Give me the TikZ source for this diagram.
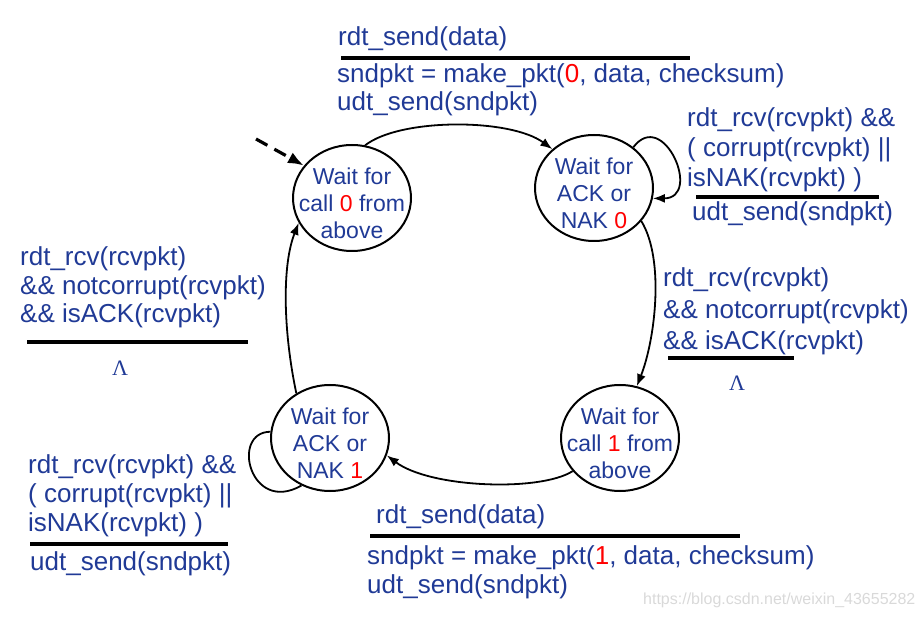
\documentclass[tikz,border=0pt]{standalone}
\usepackage{fontspec}
\setmainfont{Liberation Sans}
\newfontfamily\lambdafont{Liberation Serif}
\usetikzlibrary{shapes.geometric,arrows.meta}
\definecolor{rdtblue}{RGB}{32,58,150}
\definecolor{rdtred}{RGB}{255,0,0}
\newcommand{\toppad}{\rule{0pt}{27pt}}
\begin{document}
\begin{tikzpicture}[x=1pt, y=-1pt,
    state/.style={ellipse, draw, line width=2pt, minimum width=118pt, minimum height=106pt, inner xsep=-14pt, inner ysep=-8pt, align=center, text=rdtblue, font=\fontsize{23}{27}\selectfont},
    lbl/.style={anchor=base west, inner sep=0pt, align=left, text=rdtblue, font=\fontsize{26}{28.5}\selectfont},
    rule/.style={line width=3.5pt},
    trans/.style={line width=1.8pt, -{Latex[length=12pt,width=9pt]}},
    lam/.style={inner sep=0pt, text=rdtblue, font=\lambdafont\fontsize{22}{22}\selectfont}]
    \useasboundingbox (0,0) rectangle (924,617);

    \node[state] (call0) at (352,198) {\toppad Wait for\\call \textcolor{rdtred}{0} from\\above};
    \node[state] (ack0) at (594,188) {\toppad Wait for\\ACK or\\NAK \textcolor{rdtred}{0}};
    \node[state] (call1) at (620,438) {\toppad Wait for\\call \textcolor{rdtred}{1} from\\above};
    \node[state] (ack1) at (330,438) {\toppad Wait for\\ACK or\\NAK \textcolor{rdtred}{1}};

    \coordinate (init) at (256,139);
    \draw[line width=3.2pt, dash pattern=on 13pt off 8pt, -{Latex[length=16pt,width=12pt]}] (init) -- (call0.146);

    \draw[trans] (call0.76) .. controls (400,118) and (510,118) .. (ack0.137);
    \draw[trans] (ack0.46) .. controls +(30,-40) and +(50,0) .. (ack0.-10);
    \draw[trans] (ack0.-35) .. controls (665,260) and (655,340) .. (call1.72);
    \draw[trans] (call1.215) .. controls (540,492) and (430,488) .. (ack1.-17);
    \draw[line width=1.8pt] (ack1.174) .. controls (230,432) and (250,515) .. (ack1.239);
    \draw[trans] (ack1.127) .. controls (283,330) and (282,265) .. (call0.205);

    \node[lbl] (send0) at (338,46) {rdt\_send(data)};
    \draw[rule] (341,58) -- (690,58);
    \node[lbl] (pkt0) at (337,111) {sndpkt = make\_pkt(\textcolor{rdtred}{0}, data, checksum)\\udt\_send(sndpkt)};

    \node[lbl, font=\fontsize{26}{30}\selectfont] (nak0) at (687,187) {rdt\_rcv(rcvpkt) \&\&\\( corrupt(rcvpkt) ||\\isNAK(rcvpkt) )};
    \draw[rule] (696,197) -- (879,197);
    \node[lbl] (resend0) at (692,221) {udt\_send(sndpkt)};

    \node[lbl, font=\fontsize{26}{31.5}\selectfont] (okack0) at (663,350) {rdt\_rcv(rcvpkt)\\\&\& notcorrupt(rcvpkt)\\\&\& isACK(rcvpkt)};
    \draw[rule] (668,358) -- (794,358);
    \node[lam] (nop0) at (737,383) {Λ};

    \node[lbl] (send1) at (376,523) {rdt\_send(data)};
    \draw[rule] (370,536) -- (740,536);
    \node[lbl] (pkt1) at (367,593) {sndpkt = make\_pkt(\textcolor{rdtred}{1}, data, checksum)\\udt\_send(sndpkt)};

    \node[lbl, font=\fontsize{26}{29}\selectfont] (nak1) at (28,531) {rdt\_rcv(rcvpkt) \&\&\\( corrupt(rcvpkt) ||\\isNAK(rcvpkt) )};
    \draw[rule] (30,544) -- (228,544);
    \node[lbl] (resend1) at (30,570) {udt\_send(sndpkt)};

    \node[lbl] (okack1) at (20,323) {rdt\_rcv(rcvpkt)\\\&\& notcorrupt(rcvpkt)\\\&\& isACK(rcvpkt)};
    \draw[rule] (27,342) -- (248,342);
    \node[lam] (nop1) at (120,368) {Λ};

    \node[anchor=base west, inner sep=0pt, text=black!15, font=\fontsize{16}{16}\selectfont] (mark) at (643,604) {https://blog.csdn.net/weixin\_43655282};
\end{tikzpicture}
\end{document}
